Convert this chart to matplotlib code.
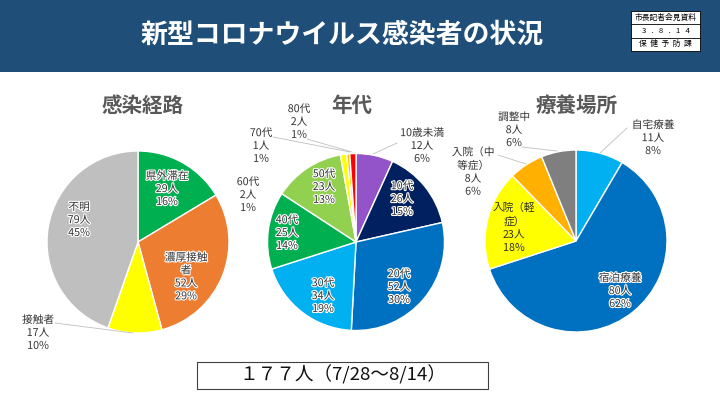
import matplotlib
matplotlib.use("Agg")
import matplotlib.pyplot as plt
import matplotlib.patheffects as pe
from matplotlib.patches import Rectangle

plt.rcParams['font.family'] = ['Noto Sans CJK JP', 'DejaVu Sans']

# 感染経路
route_names = ['県外滞在', '濃厚接触\n者', '接触者', '不明']
route_counts = [29, 52, 17, 79]
route_pcts = [16, 29, 10, 45]
route_colors = ['#00b050', '#ed7d31', '#ffff00', '#bfbfbf']

# 年代
age_names = ['10歳未満', '10代', '20代', '30代', '40代', '50代', '60代', '70代', '80代']
age_counts = [12, 26, 52, 34, 25, 23, 2, 1, 2]
age_pcts = [6, 15, 30, 19, 14, 13, 1, 1, 1]
age_colors = ['#9254c8', '#002060', '#0070c0', '#00b0f0', '#00b050', '#92d050', '#ffff00', '#ffc000', '#ff0000']

# 療養場所
place_names = ['自宅療養', '宿泊療養', '入院（軽\n症）', '入院（中\n等症）', '調整中']
place_counts = [11, 80, 23, 8, 8]
place_pcts = [8, 62, 18, 6, 6]
place_colors = ['#00b0f0', '#0070c0', '#ffff00', '#ffb000', '#7f7f7f']

stamp_rows = ['市長記者会見資料', '3   .   8   .   1   4', '保  健  予  防  課']
title = '新型コロナウイルス感染者の状況'
total_text = '１７７人（7/28～8/14）'

W, H = 720, 405
fig = plt.figure(figsize=(W / 100, H / 100), dpi=100, facecolor='white')

# overlay in pixel coords, y going down like the picture
bg = fig.add_axes([0, 0, 1, 1])
bg.set_xlim(0, W)
bg.set_ylim(H, 0)
bg.axis('off')

bg.add_patch(Rectangle((0, 0), W, 72, color='#1f4e79', lw=0))
bg.text(342, 35, title, color='white', fontsize=19.4, fontweight='bold', ha='center', va='center')

# stamp box
bg.add_patch(Rectangle((631, 11), 69, 40, fc='white', ec='black', lw=0.6, zorder=2))
for i, row in enumerate(stamp_rows):
    bg.text(665.5, 17.5 + i * 13.4, row, fontsize=5.6, ha='center', va='center', zorder=3)
    if i:
        bg.plot([631, 700], [11 + i * 13.3] * 2, color='black', lw=0.6, zorder=3)

for x, s in [(143, '感染経路'), (352, '年代'), (577, '療養場所')]:
    bg.text(x, 105, s, color='#595959', fontsize=14.8, fontweight='bold', ha='center', va='center')

bg.add_patch(Rectangle((197, 362), 291, 27, fc='white', ec='#404040', lw=0.8))
bg.text(343, 375, total_text, fontsize=13.4, ha='center', va='center', color='#111111')


def draw_pie(cx, cy, r, counts, colors):
    ax = fig.add_axes([(cx - r) / W, 1 - (cy + r) / H, 2 * r / W, 2 * r / H])
    ax.pie(counts, colors=colors, startangle=90, counterclock=False,
           wedgeprops={'edgecolor': 'white', 'linewidth': 1.0})
    ax.set_xlim(-1, 1)
    ax.set_ylim(-1, 1)
    for p in ax.patches:
        p.set_clip_on(False)


def put_label(x, y, name, n, pct, halo=True):
    s = f'{name}\n{n}人\n{pct}%'
    t = top.text(x, y, s, fontsize=7.7, ha='center', va='center', color='#333333', linespacing=1.36)
    if halo:
        t.set_path_effects([pe.withStroke(linewidth=1.6, foreground='white')])


def leader(x0, y0, x1, y1):
    top.plot([x0, x1], [y0, y1], color='#bfbfbf', lw=0.6)


draw_pie(138, 242, 91, route_counts, route_colors)
draw_pie(356, 242, 88.5, age_counts, age_colors)
draw_pie(576, 241, 91, place_counts, place_colors)

# labels go above the pies
top = fig.add_axes([0, 0, 1, 1], facecolor='none')
top.set_xlim(0, W)
top.set_ylim(H, 0)
top.axis('off')

route_pos = [(167, 189), (186, 277), (38, 333), (79, 220)]
for (x, y), nm, n, p in zip(route_pos, route_names, route_counts, route_pcts):
    put_label(x, y, nm, n, p)
leader(55, 323, 133, 333)

age_pos = [(422, 146), (402, 199), (399, 287), (323, 296), (287, 233),
           (324, 187), (248, 195), (261, 146), (299, 122)]
for (x, y), nm, n, p in zip(age_pos, age_names, age_counts, age_pcts):
    put_label(x, y, nm, n, p)
leader(397, 143, 373, 154)
leader(273, 137, 350, 152)
leader(307, 139, 352, 152)

place_pos = [(653, 138), (620, 291), (514, 228), (473, 172), (514, 130)]
for (x, y), nm, n, p in zip(place_pos, place_names, place_counts, place_pcts):
    put_label(x, y, nm, n, p, halo=nm != '入院（軽\n症）')
leader(627, 128, 600, 153)
leader(522, 147, 557, 151)
leader(498, 155, 526, 164)

fig.savefig('out.png', dpi=100)
